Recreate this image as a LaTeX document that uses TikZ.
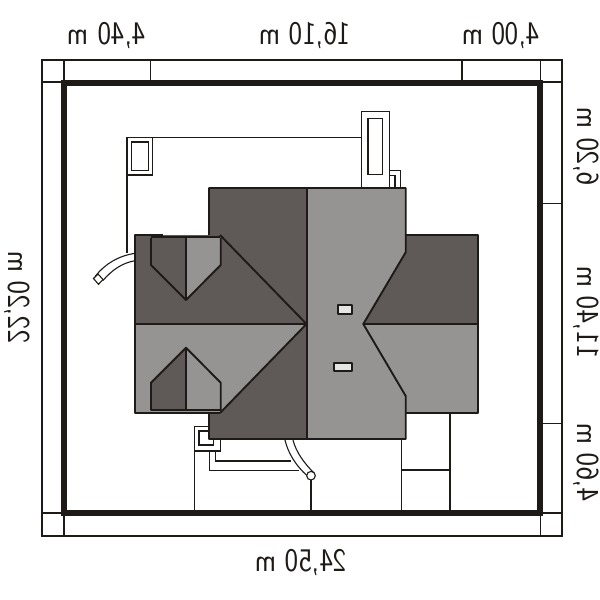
\documentclass[tikz,border=0pt]{standalone}
\usepackage[xetex,hyperref]{xcolor}
\usepackage{tikz}

\definecolor{roofdark}{HTML}{5F5A58}
\definecolor{rooflight}{HTML}{969492}
\definecolor{inkline}{HTML}{1E1A17}
\definecolor{ventfill}{HTML}{E5E5E3}

\tikzset{
  thinline/.style={draw=inkline, line width=1.1pt},
  frameline/.style={draw=inkline, line width=1.4pt},
  plotline/.style={draw=inkline, line width=6pt, line join=miter},
  roofline/.style={draw=inkline, line width=1.9pt, line join=round},
  dimlabel/.style={inner sep=0pt, text=inkline}
}
\newcommand{\DimTop}[1]{\scalebox{-0.87}[1]{\fontsize{33}{33}\sffamily #1}}
\newcommand{\DimSide}[1]{\reflectbox{\rotatebox{90}{\scalebox{0.9}[1]{\fontsize{32}{32}\sffamily #1}}}}

\begin{document}
\begin{tikzpicture}[x=1pt, y=-1pt]
\useasboundingbox (0,0) rectangle (600,600);

% roof faces
\fill[roofdark] (135,235) -- (220,235) -- (209,235) -- (209,188) -- (307,188) -- (307,324) -- (135,324) -- cycle;
\fill[rooflight] (135,324) -- (306,324) -- (220,413) -- (135,413) -- cycle;
\fill[roofdark] (306,324) -- (307,439) -- (209,439) -- (209,413) -- (220,413) -- cycle;
\fill[roofdark] (405.7,235) -- (477.7,235) -- (477.7,324) -- (363.3,324) -- cycle;
\fill[rooflight] (405.7,396) -- (363.3,324) -- (477.7,324) -- (477.7,413) -- (405.7,413) -- cycle;
\fill[rooflight] (307,188) -- (405.7,188) -- (405.7,252.3) -- (363.3,324) -- (405.7,396) -- (405.7,439) -- (307,439) -- cycle;

% top dormer
\fill[roofdark] (151,238) -- (186,238) -- (186,300) -- (151,265) -- cycle;
\fill[rooflight] (186,238) -- (220.7,238) -- (220.7,265) -- (186,300) -- cycle;
\draw[roofline] (151,238) -- (151,265) -- (186,300) -- (220.7,265) -- (220.7,238);
\draw[roofline] (186,238) -- (186,300);

% bottom dormer
\fill[roofdark] (151,410) -- (186,410) -- (186,347.7) -- (151,382.7) -- cycle;
\fill[rooflight] (186,410) -- (220.7,410) -- (220.7,382.7) -- (186,347.7) -- cycle;
\draw[roofline] (151,410) -- (151,382.7) -- (186,347.7) -- (220.7,382.7) -- (220.7,410) -- cycle;
\draw[roofline] (186,347.7) -- (186,410);

% roof outlines
\draw[roofline] (220,235) -- (306.5,324) -- (220,413);
\draw[roofline] (135,324) -- (306.5,324);
\draw[roofline] (163,235) -- (135,235) -- (135,413) -- (220,413);
\draw[roofline] (151,237) -- (220,237);
\draw[roofline] (209,235) -- (209,188) -- (405.7,188) -- (405.7,252.3) -- (363.3,324) -- (405.7,396) -- (405.7,439) -- (209,439) -- (209,413);
\draw[roofline] (307,188) -- (307,439);
\draw[roofline] (405.7,235) -- (477.7,235) -- (477.7,413) -- (405.7,413);
\draw[roofline] (363.3,324) -- (477.7,324);

% vents
\draw[roofline, fill=ventfill] (337.7,305.3) rectangle (352.3,313.7);
\draw[roofline, fill=ventfill] (333.7,362.7) rectangle (352.3,370.7);

% plot lines north
\draw[thinline] (127,253) -- (127,137.3) -- (361.7,137.3);
\draw[thinline] (127.3,137.3) rectangle (152.7,175);
\draw[thinline] (131.7,142) rectangle (148.3,170.7);
\draw[thinline] (361.7,188) -- (361.7,111.7) -- (389.3,111.7) -- (389.3,188);
\draw[thinline] (368,118.3) rectangle (382.3,174.3);
\draw[thinline] (389.3,170.3) -- (400.3,170.3) -- (400.3,188);
\draw[thinline] (389.3,175.7) -- (395,175.7) -- (395,188);

% left door
\draw[thinline] (135,253.3) .. controls (118,256) and (105,264) .. (95.5,276);
\draw[thinline] (135,260.7) .. controls (122,263) and (112,270) .. (103,280.5);
\draw[thinline, fill=white] (93.5,278.5) -- (98,274) -- (103,279.5) -- (98.5,284.3) -- cycle;

% plot lines south
\draw[thinline] (209,426.7) -- (194.5,426.7) -- (194.5,512);
\draw[thinline] (209,431) -- (199,431) -- (199,445) -- (213.3,445) -- (213.3,439);
\draw[thinline] (194.5,451) -- (220.7,451) -- (220.7,439);
\draw[thinline] (209.3,451) -- (209.3,470.5) -- (299,470.5);
\draw[thinline] (215.7,451) -- (215.7,461) -- (291,461);
\draw[thinline] (285,440) .. controls (288,453) and (296,466) .. (307.5,476);
\draw[thinline] (293,440) .. controls (296,452) and (304,463) .. (314,473);
\draw[thinline, fill=white] (311,475.7) circle (4.3);
\draw[thinline] (311,480) -- (311,512);
\draw[thinline] (401.7,439) -- (401.7,512);
\draw[thinline] (450,413) -- (450,512);
\draw[thinline] (401.7,470) -- (450,470);

% dimension frame
\draw[frameline] (42,60) rectangle (562,536);
\foreach \x in {64,150.5,462,540.5}
  \draw[frameline] (\x,60) -- (\x,82);
\foreach \y in {82,513}
  {
    \draw[frameline] (42,\y) -- (64,\y);
    \draw[frameline] (540,\y) -- (562,\y);
  }
\foreach \y in {203.3,423.3}
  \draw[frameline] (540,\y) -- (562,\y);
\foreach \x in {64,540.5}
  \draw[frameline] (\x,513) -- (\x,536);
\draw[plotline] (64,82.7) rectangle (540,512.7);

% dimension labels
\node[dimlabel] (dimtopa) at (106.7,35) {\DimTop{4,40 m}};
\node[dimlabel] (dimtopb) at (305,35) {\DimTop{16,10 m}};
\node[dimlabel] (dimtopc) at (500.8,35) {\DimTop{4,00 m}};
\node[dimlabel] (dimbottom) at (300.8,562) {\DimTop{24,50 m}};
\node[dimlabel] (dimleft) at (17,297) {\DimSide{22,20 m}};
\node[dimlabel] (dimrighta) at (586,146.5) {\DimSide{6,20 m}};
\node[dimlabel] (dimrightb) at (586,312) {\DimSide{11,40 m}};
\node[dimlabel] (dimrightc) at (586,462) {\DimSide{4,60 m}};
\end{tikzpicture}
\end{document}
